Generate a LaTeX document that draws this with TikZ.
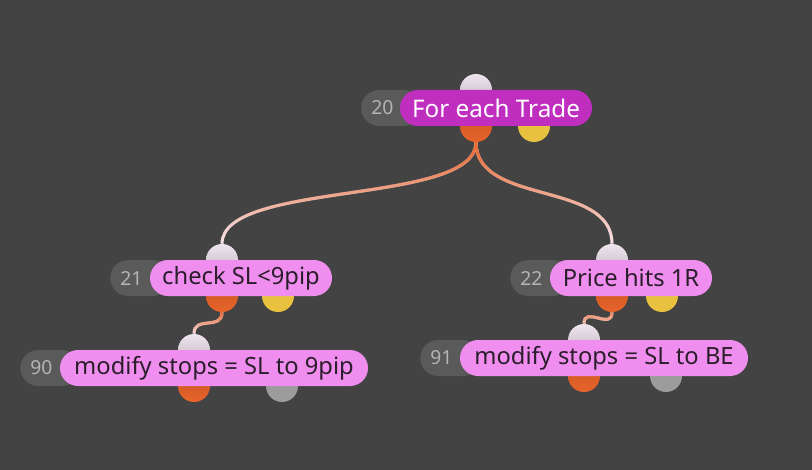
\documentclass[tikz,border=0pt]{standalone}
\usepackage{fontspec}
\setmainfont{Noto Sans}
\usetikzlibrary{fadings}
\definecolor{canvasgray}{HTML}{434343}
\definecolor{idgray}{HTML}{5A5A5A}
\definecolor{idtext}{HTML}{B4B4B4}
\definecolor{loopmagenta}{HTML}{C02EC0}
\definecolor{actionpink}{HTML}{F08EF0}
\definecolor{darktext}{HTML}{2A1E2A}
\definecolor{portorange}{HTML}{E8642A}
\definecolor{portyellow}{HTML}{E8C23E}
\definecolor{portgray}{HTML}{9C9C9C}
\definecolor{portwhite}{HTML}{EEE4EE}
\definecolor{wirepale}{HTML}{F6E6EC}

\begin{document}
\begin{tikzpicture}[x=0.75pt,y=-0.75pt,
  idpill/.style={fill=idgray,rounded corners=13.5pt,minimum height=27pt,minimum width=45pt,
    text width=30pt,align=left,inner xsep=7pt,inner ysep=0pt,anchor=west,
    text=idtext,font=\fontsize{14.5}{16}\selectfont},
  looppill/.style={fill=loopmagenta,rounded corners=13.5pt,minimum height=27pt,inner sep=0pt,
    text=white,font=\fontsize{18.2}{20}\selectfont},
  actionpill/.style={fill=actionpink,rounded corners=13.5pt,minimum height=27pt,inner sep=0pt,
    text=darktext,font=\fontsize{17.8}{20}\selectfont},
  port/.style={circle,minimum size=24pt,inner sep=0pt},
  inport/.style={port,top color=portwhite,bottom color=portwhite!80!black},
  outport/.style={port,top color=portorange!85!black,bottom color=portorange},
  flagport/.style={port,fill=portyellow},
  spareport/.style={port,fill=portgray},
  wire/.style={line width=2.3pt,wirepale},
  wireglow/.style={line width=2.3pt,portorange,path fading=south}]
\useasboundingbox (0,0) rectangle (812,470);
\fill[canvasgray] (0,0) rectangle (812,470);
\node[inport] (p20in) at (476,90) {};
\node[outport] (p20out) at (476,126) {};
\node[flagport] (p20flag) at (534,126) {};
\node[inport] (p21in) at (222,260) {};
\node[outport] (p21out) at (222,296) {};
\node[flagport] (p21flag) at (278,296) {};
\node[inport] (p22in) at (612,260) {};
\node[outport] (p22out) at (612,296) {};
\node[flagport] (p22flag) at (662,296) {};
\node[inport] (p90in) at (194,350) {};
\node[outport] (p90out) at (194,386) {};
\node[spareport] (p90spare) at (282,386) {};
\node[inport] (p91in) at (584,340) {};
\node[outport] (p91out) at (584,376) {};
\node[spareport] (p91spare) at (666,376) {};
\draw[wire] (p20out) .. controls +(0,80) and +(0,-80) .. (p21in);
\draw[wireglow] (p20out) .. controls +(0,80) and +(0,-80) .. (p21in);
\draw[wire] (p20out) .. controls +(0,80) and +(0,-80) .. (p22in);
\draw[wireglow] (p20out) .. controls +(0,80) and +(0,-80) .. (p22in);
\draw[wire] (p21out) .. controls +(0,35) and +(0,-35) .. (p90in);
\draw[wireglow] (p21out) .. controls +(0,35) and +(0,-35) .. (p90in);
\draw[wire] (p22out) .. controls +(0,35) and +(0,-35) .. (p91in);
\draw[wireglow] (p22out) .. controls +(0,35) and +(0,-35) .. (p91in);
\node[idpill] (id20) at (361,108) {20};
\node[looppill,minimum width=144pt] (n20) at (496,108) {For each Trade};
\node[idpill] (id21) at (110,278) {21};
\node[actionpill,minimum width=136.5pt] (n21) at (241,278) {check SL<9pip};
\node[idpill] (id22) at (510,278) {22};
\node[actionpill,minimum width=121.5pt] (n22) at (631,278) {Price hits 1R};
\node[idpill] (id90) at (20,368) {90};
\node[actionpill,minimum width=231pt] (n90) at (214,368) {modify stops = SL to 9pip};
\node[idpill] (id91) at (420,358) {91};
\node[actionpill,minimum width=216pt] (n91) at (604,358) {modify stops = SL to BE};
\end{tikzpicture}
\end{document}
